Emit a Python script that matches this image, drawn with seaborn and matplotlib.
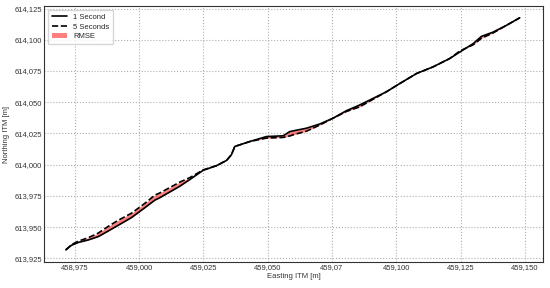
import numpy as np
import matplotlib
matplotlib.use("Agg")
import matplotlib.pyplot as plt
import seaborn as sns

# trajectory (Easting / Northing, ITM metres)
easting = [458971.5, 458973.7, 458976.3, 458980.2, 458984.1, 458988.0, 458991.8,
           458997.0, 459002.2, 459006.1, 459008.0, 459015.8, 459019.7, 459024.9,
           459030.1, 459034.0, 459035.9, 459037.2, 459039.2, 459043.0, 459049.5,
           459056.0, 459058.6, 459060.5, 459065.1, 459070.3, 459075.4, 459080.6,
           459085.8, 459091.0, 459096.2, 459101.4, 459107.9, 459114.3, 459120.8,
           459124.7, 459129.9, 459133.1, 459137.6, 459142.8, 459148.0]
north_1s = [613931.8, 613935.5, 613937.7, 613939.7, 613942.4, 613946.9, 613951.4,
            613957.6, 613965.5, 613971.6, 613973.5, 613982.7, 613988.1, 613995.5,
            613999.2, 614003.4, 614008.0, 614014.6, 614015.9, 614018.5, 614022.5,
            614023.1, 614026.5, 614027.3, 614029.2, 614032.6, 614037.2, 614043.2,
            614047.8, 614053.1, 614058.4, 614065.0, 614073.0, 614078.3, 614085.0,
            614090.2, 614096.9, 614102.7, 614106.1, 614111.5, 614117.6]
north_5s = [613931.8, 613936.0, 613938.7, 613941.5, 613945.2, 613950.6, 613955.4,
            613961.1, 613969.0, 613975.6, 613977.3, 613986.0, 613989.6, 613995.8,
            613999.2, 614003.4, 614008.0, 614014.6, 614015.9, 614018.5, 614021.3,
            614021.8, 614023.0, 614024.3, 614026.8, 614031.8, 614037.2, 614042.6,
            614046.3, 614052.4, 614058.4, 614065.0, 614073.0, 614078.3, 614085.0,
            614091.0, 614096.0, 614101.2, 614105.4, 614111.5, 614117.6]

xticks = [458975, 459000, 459025, 459050, 459075, 459100, 459125, 459150]
xtick_labels = ["458,975", "459,000", "459,025", "459,050", "459,07",
                "459,100", "459,125", "459,150"]
yticks = [613925, 613950, 613975, 614000, 614025, 614050, 614075, 614100, 614125]

sns.set_style("whitegrid", {"grid.linestyle": ":", "grid.color": "#b0b0b0",
                            "axes.edgecolor": "#333333"})
plt.rcParams['font.family'] = ['Liberation Sans', 'DejaVu Sans']

fig, ax = plt.subplots(figsize=(5.5, 2.88), dpi=100)
fig.subplots_adjust(left=0.08, right=0.987, top=0.979, bottom=0.09)

sns.lineplot(x=easting, y=north_1s, sort=False, color="black", lw=1.2,
             label="1 Second", ax=ax)
sns.lineplot(x=easting, y=north_5s, sort=False, color="black", lw=1.2,
             linestyle="--", label="5 Seconds", ax=ax)
ax.fill_between(easting, north_1s, north_5s, color="red", alpha=0.5,
                lw=0, label="RMSE")

ax.set_xlim(458963, 459157)
ax.set_ylim(613922, 614127)
ax.set_xticks(xticks)
ax.set_xticklabels(xtick_labels)
ax.set_yticks(yticks)
ax.set_yticklabels([f"{v:,}" for v in yticks])
ax.tick_params(labelsize=5.5, colors="#333333", pad=1.5, length=0)
for sp in ax.spines.values():
    sp.set_linewidth(0.8)

ax.set_xlabel("Easting ITM [m]", fontsize=5.5, color="#333333", labelpad=1)
ax.set_ylabel("Northing ITM [m]", fontsize=5.5, color="#333333", labelpad=3)
ax.legend(loc="upper left", fontsize=5.5, frameon=True, handlelength=2,
          borderpad=0.5, labelspacing=0.3)

fig.savefig("out.png", dpi=100)
